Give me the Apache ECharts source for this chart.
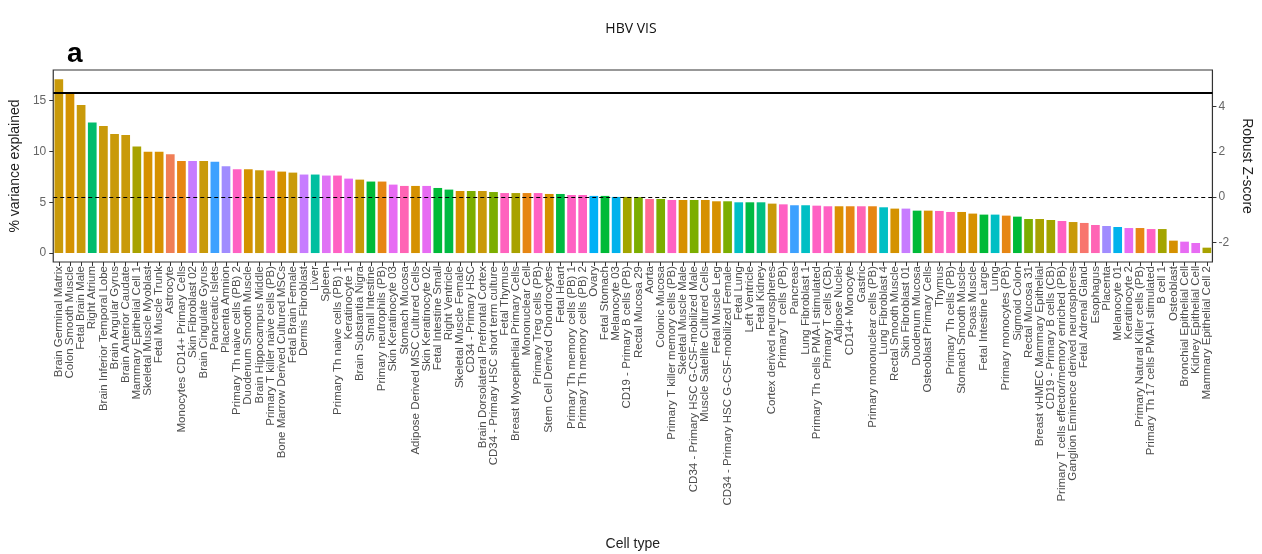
<!DOCTYPE html>
<html>
<head>
<meta charset="utf-8">
<script src="https://cdn.jsdelivr.net/npm/echarts@6/dist/echarts.min.js"></script>
<style>
  html, body { margin: 0; padding: 0; background: #fff; }
  #chart { width: 1262px; height: 554px; }
</style>
</head>
<body>
<div id="chart"></div>
<script>
// Cell types, ordered by variance explained
const cellTypes = [
  'Brain Germinal Matrix', 'Colon Smooth Muscle', 'Fetal Brain Male', 'Right Atrium',
  'Brain Inferior Temporal Lobe', 'Brain Angular Gyrus', 'Brain Anterior Caudate',
  'Mammary Epithelial Cell 1', 'Skeletal Muscle Myoblast', 'Fetal Muscle Trunk', 'Astrocyte',
  'Monocytes CD14+ Primary Cells', 'Skin Fibroblast 02', 'Brain Cingulate Gyrus',
  'Pancreatic Islets', 'Placenta Amnion', 'Primary Th naive cells (PB) 2',
  'Duodenum Smooth Muscle', 'Brain Hippocampus Middle', 'Primary T killer naive cells (PB)',
  'Bone Marrow Derived Cultured MSCs', 'Fetal Brain Female', 'Dermis Fibroblast', 'Liver',
  'Spleen', 'Primary Th naive cells (PB) 1', 'Keratinocyte 1', 'Brain Substantia Nigra',
  'Small Intestine', 'Primary neutrophils (PB)', 'Skin Keratinocyte 03', 'Stomach Mucosa',
  'Adipose Derived MSC Cultured Cells', 'Skin Keratinocyte 02', 'Fetal Intestine Small',
  'Right Ventricle', 'Skeletal Muscle Female', 'CD34 - Primary HSC',
  'Brain Dorsolateral Prefrontal Cortex', 'CD34 - Primary HSC short term culture',
  'Fetal Thymus', 'Breast Myoepithelial Primary Cells', 'Mononuclear Cell',
  'Primary Treg cells (PB)', 'Stem Cell Derived Chondrocytes', 'Fetal Heart',
  'Primary Th memory cells (PB) 1', 'Primary Th memory cells (PB) 2', 'Ovary',
  'Fetal Stomach', 'Melanocyte 03', 'CD19 - Primary B cells (PB)', 'Rectal Mucosa 29',
  'Aorta', 'Colonic Mucosa', 'Primary T killer memory cells (PB)', 'Skeletal Muscle Male',
  'CD34 - Primary HSC G-CSF-mobilized Male', 'Muscle Satellite Cultured Cells',
  'Fetal Muscle Leg', 'CD34 - Primary HSC G-CSF-mobilized Female', 'Fetal Lung',
  'Left Ventricle', 'Fetal Kidney', 'Cortex derived neurospheres', 'Primary T cells (PB)',
  'Pancreas', 'Lung Fibroblast 1', 'Primary Th cells PMA-I stimulated',
  'Primary T cells (CB)', 'Adipose Nuclei', 'CD14+ Monocyte', 'Gastric',
  'Primary mononuclear cells (PB)', 'Lung Fibroblast 4', 'Rectal Smooth Muscle',
  'Skin Fibroblast 01', 'Duodenum Mucosa', 'Osteoblast Primary Cells', 'Thymus',
  'Primary Th cells (PB)', 'Stomach Smooth Muscle', 'Psoas Muscle', 'Fetal Intestine Large',
  'Lung', 'Primary monocytes (PB)', 'Sigmoid Colon', 'Rectal Mucosa 31',
  'Breast vHMEC Mammary Epithelial', 'CD19 - Primary B cells (CB)',
  'Primary T cells effector/memory enriched (PB)', 'Ganglion Eminence derived neurospheres',
  'Fetal Adrenal Gland', 'Esophagus', 'Placenta', 'Melanocyte 01', 'Keratinocyte 2',
  'Primary Natural Killer cells (PB)', 'Primary Th 17 cells PMA-I stimulated', 'B cell 1',
  'Osteoblast', 'Bronchial Epithelial Cell', 'Kidney Epithelial Cell',
  'Mammary Epithelial Cell 2'
];

// % variance explained per cell type
const varianceExplained = [
  17.1, 15.8, 14.55, 12.84, 12.5, 11.7, 11.6, 10.48, 9.95, 9.95, 9.72,
  9.06, 9.06, 9.06, 8.97, 8.54, 8.24, 8.24, 8.14, 8.11, 8.01, 7.91, 7.72, 7.72,
  7.62, 7.62, 7.32, 7.22, 7.03, 7.03, 6.73, 6.6, 6.6, 6.6, 6.4, 6.24,
  6.1, 6.1, 6.1, 6.0, 5.9, 5.9, 5.9, 5.9, 5.81, 5.81, 5.71, 5.71, 5.62, 5.62,
  5.52, 5.52, 5.5, 5.32, 5.32, 5.22, 5.22, 5.22, 5.22, 5.09, 5.09, 4.99, 4.99,
  4.99, 4.86, 4.79, 4.7, 4.7, 4.66, 4.6, 4.6, 4.6, 4.6, 4.6, 4.5, 4.37, 4.37,
  4.17, 4.17, 4.14, 4.04, 4.04, 3.88, 3.78, 3.78, 3.68, 3.58, 3.35, 3.35, 3.25,
  3.15, 3.05, 2.96, 2.76, 2.66, 2.56, 2.46, 2.46, 2.36, 2.36, 1.22, 1.12, 0.99, 0.53
];

// Tissue class of each cell type
const tissueClass = [
  'brain', 'smoothMuscle', 'brain', 'heartA', 'brain', 'brain', 'brain',
  'epithelial', 'muscle', 'muscle', 'glia',
  'myeloid', 'skin', 'brain', 'pancreas', 'placenta', 'tcell',
  'smoothMuscle', 'brain', 'tcell', 'mesench', 'brain', 'skin', 'liver',
  'spleen', 'tcell', 'keratinocyte', 'brain', 'gut', 'myeloid', 'keratinocyte', 'upperGI',
  'mesench', 'keratinocyte', 'gut', 'heart',
  'muscle', 'hsc', 'brain', 'hsc', 'thymus', 'epithelial', 'myeloid', 'tcell',
  'mesench', 'heart', 'tcell', 'tcell', 'ovary', 'gut', 'melanocyte', 'bcell', 'mucosa',
  'aorta', 'mucosa', 'tcell', 'muscle', 'hsc', 'muscle', 'muscle', 'hsc', 'lung',
  'heart', 'kidney', 'neurosphere', 'tcell', 'pancreas', 'lung', 'tcell',
  'tcell', 'adipose', 'myeloid', 'upperGI', 'myeloid', 'lung', 'smoothMuscle',
  'skin', 'gut', 'mesench', 'thymus', 'tcell', 'smoothMuscle', 'muscle', 'gut',
  'lung', 'myeloid', 'gut', 'mucosa', 'epithelial', 'bcell',
  'tcell', 'neurosphere', 'adrenal', 'upperGI', 'placenta', 'melanocyte', 'keratinocyte',
  'myeloid', 'tcell', 'bcell', 'mesench', 'airwayKidney', 'airwayKidney', 'epithelial'
];

// Right-axis (robust z-score) reference levels
const zMedianPct = 5.5;     // % variance at z = 0
const zUnitPct = 2.227;     // % variance per z unit
const zLines = [0, 4.6];

const leftTicks = [0, 5, 10, 15];
const rightTicks = [-2, 0, 2, 4];

const classColor = {
  brain: '#C99A0A', smoothMuscle: '#D49200', muscle: '#D69100', mesench: '#D59100',
  adipose: '#DB8F00', neurosphere: '#C99A0A',
  heartA: '#00BC6C', heart: '#00BA42', gut: '#00BA38', kidney: '#00BF80', liver: '#00BFA0',
  epithelial: '#A8A200', bcell: '#A3A500', hsc: '#7CAE00', mucosa: '#7CAE00',
  glia: '#F07E56', adrenal: '#F8766D', aorta: '#FF6C93',
  myeloid: '#E68613', skin: '#C77CFF', keratinocyte: '#E76BF3', spleen: '#E072F5',
  airwayKidney: '#E76BF3', pancreas: '#3DA1FF', placenta: '#A08CFF',
  ovary: '#00B0F6', melanocyte: '#00B2EC', lung: '#00BFC4',
  tcell: '#FF61C3', thymus: '#FF63BE', upperGI: '#FF64B5'
};

const leftMin = -0.88, leftMax = 18;

const chart = echarts.init(document.getElementById('chart'), null, { renderer: 'canvas' });

const fontFam = '"Liberation Sans", Arial, sans-serif';

chart.setOption({
  animation: false,
  backgroundColor: '#ffffff',
  title: {
    text: 'HBV VIS',
    left: 'center',
    top: 17,
    textStyle: { fontFamily: '"Open Sans", sans-serif', fontSize: 14, fontWeight: 'normal', color: '#111' }
  },
  graphic: [{
    type: 'text',
    left: 67,
    top: 40,
    style: { text: 'a', font: 'bold 28px "Liberation Sans", Arial, sans-serif', fill: '#000' }
  }],
  grid: {
    left: 53, right: 33, top: 70, bottom: 292,
    show: true, borderColor: '#333', borderWidth: 1.2, backgroundColor: 'transparent'
  },
  xAxis: {
    type: 'category',
    data: cellTypes,
    name: 'Cell type',
    nameLocation: 'middle',
    nameGap: 275,
    nameTextStyle: { fontFamily: fontFam, fontSize: 14, color: '#222' },
    axisLine: { show: false, onZero: false },
    axisTick: { show: true, alignWithLabel: true, length: 4, lineStyle: { color: '#333' } },
    axisLabel: {
      interval: 0, rotate: 90, margin: 4,
      fontFamily: fontFam, fontSize: 11.5, color: '#4d4d4d'
    },
    splitLine: { show: false }
  },
  yAxis: [{
    type: 'value',
    min: leftMin, max: leftMax,
    name: '% variance explained',
    nameLocation: 'middle',
    nameGap: 28,
    nameRotate: 90,
    nameTextStyle: { fontFamily: fontFam, fontSize: 14, color: '#222' },
    axisLine: { show: false },
    axisTick: { show: true, length: 4, customValues: leftTicks, lineStyle: { color: '#333' } },
    axisLabel: { customValues: leftTicks, margin: 7, fontFamily: fontFam, fontSize: 12, color: '#666' },
    splitLine: { show: false }
  }, {
    type: 'value',
    min: (leftMin - zMedianPct) / zUnitPct,
    max: (leftMax - zMedianPct) / zUnitPct,
    name: 'Robust Z-score',
    nameLocation: 'middle',
    nameGap: 20,
    nameRotate: -90,
    nameTextStyle: { fontFamily: fontFam, fontSize: 14, color: '#222' },
    axisLine: { show: false },
    axisTick: { show: true, length: 4, customValues: rightTicks, lineStyle: { color: '#333' } },
    axisLabel: { customValues: rightTicks, margin: 6, fontFamily: fontFam, fontSize: 12, color: '#666' },
    splitLine: { show: false }
  }],
  series: [{
    type: 'bar',
    yAxisIndex: 0,
    barCategoryGap: '22%',
    data: varianceExplained.map((v, i) => ({
      value: v,
      itemStyle: { color: classColor[tissueClass[i]] }
    }))
  }, {
    type: 'line',
    yAxisIndex: 1,
    data: [],
    silent: true,
    markLine: {
      symbol: 'none',
      silent: true,
      label: { show: false },
      data: [
        { yAxis: zLines[0], lineStyle: { color: '#000', width: 1.2, type: [4, 3] } },
        { yAxis: zLines[1], lineStyle: { color: '#000', width: 2, type: 'solid' } }
      ]
    }
  }]
});
</script>
</body>
</html>
